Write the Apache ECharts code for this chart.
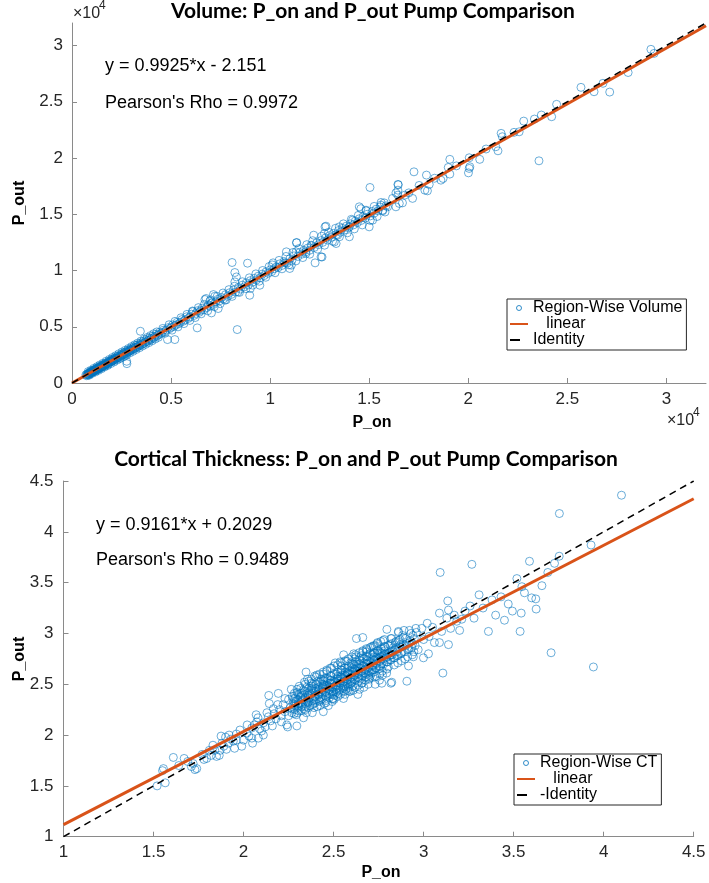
<!DOCTYPE html>
<html><head><meta charset="utf-8">
<script src="https://cdn.jsdelivr.net/npm/echarts@6/dist/echarts.min.js"></script>
<style>html,body{margin:0;padding:0;background:#fff}#c{width:709px;height:883px}</style>
</head><body><div id="c"></div>
<script>
// ---------- DATA ----------
const volumeTitle = 'Volume: P_on and P_out Pump Comparison';
const ctTitle = 'Cortical Thickness: P_on and P_out Pump Comparison';
const volumeFit = [0.9925, -2.151];
const ctFit = [0.9161, 0.2029];
const volumeTicks = [0, 5000, 10000, 15000, 20000, 25000, 30000];
const ctTicks = [1, 1.5, 2, 2.5, 3, 3.5, 4, 4.5];

const volumePoints = [
[700,720],[740,650],[760,790],[790,760],[810,700],[830,870],[850,820],[860,780],[880,920],[900,870],
[920,940],[940,850],[960,1000],[980,930],[1000,1050],[1010,960],[1030,1000],[1050,1110],[1070,1020],[1090,1080],
[1110,1170],[1130,1050],[1150,1120],[1170,1220],[1190,1100],[1210,1180],[1230,1290],[1250,1210],[1270,1160],[1290,1330],
[1310,1270],[1340,1400],[1360,1300],[1380,1350],[1400,1460],[1420,1330],[1440,1410],[1470,1520],[1490,1440],[1510,1390],
[1540,1590],[1560,1500],[1580,1560],[1610,1680],[1630,1570],[1650,1510],[1680,1720],[1700,1640],[1720,1690],[1750,1810],
[1770,1700],[1800,1760],[1820,1650],[1850,1900],[1870,1820],[1900,1860],[1920,1990],[1950,1880],[1980,1940],[2000,2080],
[2030,1960],[2060,2030],[2080,2150],[2110,2050],[2140,2000],[2160,2220],[2190,2140],[2220,2180],[2250,2330],[2270,2200],
[2300,2250],[2330,2410],[2360,2290],[2390,2350],[2420,2200],[2450,2500],[2480,2420],[2510,2470],[2540,2620],[2570,2500],
[2600,2560],[2630,2690],[2660,2590],[2690,2440],[2720,2780],[2750,2680],[2760,1930],[2770,1720],[2790,2760],[2820,2900],
[2850,2760],[2880,2830],[2910,2980],[2940,2870],[2970,2920],[3000,3090],[3040,2950],[3080,3040],[3110,3200],[3150,3060],
[3190,3130],[3230,3340],[3270,3180],[3310,3240],[3350,3420],[3390,3300],[3430,3370],[3450,4600],[3480,3560],[3520,3420],
[3560,3490],[3600,3700],[3650,3550],[3700,3640],[3750,3850],[3800,3690],[3850,3780],[3900,3990],[3950,3840],[4000,3930],
[4060,4150],[4120,4000],[4180,4110],[4240,4330],[4300,4200],[4360,4280],[4420,4510],[4480,4380],
[820,1010],[880,700],[950,1130],[1020,860],[1100,1300],[1180,980],[1260,1450],[1330,1120],[1400,1600],[1480,1260],
[1560,1750],[1640,1420],[1720,1930],[1800,1560],[1880,2090],[1960,1730],[2040,2260],[2120,1870],[2200,2420],[2280,2040],
[2360,2590],[2440,2190],[2520,2750],[2600,2350],[2680,2900],[2760,2500],[2840,3060],[2920,2680],[3000,3230],[3080,2820],
[3160,3390],[3240,2980],[3320,3550],[3400,3130],[3480,3720],[3560,3290],[3640,3890],[3720,3440],[3800,4050],[3880,3590],
[3960,4210],[4040,3750],[4120,4380],[4200,3910],[4280,4540],[4360,4060],
[4550,4480],[4600,4690],[4680,4560],[4760,4700],[4820,3860],[4850,4920],[4930,4830],[5010,4950],[5080,5170],[5150,5030],
[5190,3860],[5230,5150],[5310,5400],[5390,5260],[5470,5390],[5550,5640],[5630,5500],[5710,5620],[5790,5890],[5870,5740],
[5950,5880],[6030,6120],[6100,6350],[6180,6020],[6250,6180],[6320,4900],[6340,6430],[6420,6280],[6500,6450],[6570,6650],
[6650,6500],[6710,7420],[6770,7510],[6800,6700],[6880,6950],[6960,7300],[6960,6820],[7040,6230],[7040,7100],[7140,7860],
[7150,6990],[7210,7710],[7250,7200],[7380,6620],[7350,7430],[7450,7300],[7550,7600],[7650,7480],[7710,7360],[7750,7850],
[7850,7700],[7950,8020],[8050,7880],[8080,10710],[8150,8250],[8220,9820],[8220,8990],[8250,8080],[8300,9430],[8340,4750],
[8380,8100],[8400,8500],[8500,8350],[8600,8700],[8700,8550],[8800,8900],[8860,10650],[8900,8720],[8970,7800],[9000,8400],
[9000,9100],[9100,8950],[9200,9300],[9300,9150],[9400,9500],[9480,8690],[9500,9350],[9600,9680],[9700,9550],[9800,9880],
[9900,9750],[10000,10050],
[4580,4850],[4700,4420],[4900,5180],[5050,4700],[5200,5480],[5350,4990],[5500,5800],[5650,5280],[5800,6100],[5950,5560],
[6080,6400],[6220,5820],[6380,6700],[6520,6150],[6680,6990],[6850,6420],[7000,7380],[7180,6780],[7330,7700],[7480,7050],
[7620,8000],[7780,7390],[7920,8300],[8080,7700],[8200,8600],[8450,8050],[8600,9000],[8780,8380],[8950,9350],[9120,8700],
[9280,9700],[9450,9050],[9620,10000],[9780,9400],[9950,10350],
[10080,9900],[10150,10680],[10200,10150],[10320,10320],[10400,10250],[10500,10600],[10600,10450],[10700,10800],[10740,10680],[10820,11660],
[10850,10650],[10990,10180],[11000,11050],[11070,10470],[11100,10900],[11200,11300],[11310,11660],[11330,12460],[11340,12490],[11400,11250],
[11500,11600],[11600,11450],[11700,11800],[11810,11510],[11800,11650],[11900,12000],[12000,11800],[12070,12250],[12100,12200],[12200,13140],
[12230,12050],[12270,10680],[12350,12450],[12450,12300],[12570,11210],[12550,12650],[12620,11200],[12650,12500],[12740,13290],[12770,13880],
[12800,12900],[12820,13940],[12900,12700],[13000,13100],[13100,12950],[13200,13300],[13240,12540],[13330,12400],[13350,13200],[13410,13140],
[13450,13550],[13490,13880],[13550,13400],[13650,13750],[13750,13600],[13850,13950],[13950,13800],[14000,13880],[14000,13000],[14050,14150],
[14160,14470],[14200,14050],[14300,14400],[14400,14250],[14500,15660],[14500,14600],[14580,15500],[14600,14450],[14700,14800],[14800,14650],
[14840,15360],[14900,15000],[15000,13880],[15040,17380],[15050,14850],[15170,14470],[15150,15250],[15250,15100],[15350,15450],[15450,15300],
[15590,15810],[15680,15300],[15680,15360],[15760,16010],[15930,15660],[15550,15650],[15850,15750],
[10100,10500],[10250,9800],[10450,10900],[10600,10150],[10800,11250],[10950,10500],[11150,11600],[11300,10850],[11450,11950],[11650,11150],
[11850,12300],[12000,11450],[12150,12650],[12400,11900],[12600,13050],[12750,12250],[12950,13400],[13150,12600],[13300,13750],[13500,13000],
[13700,14150],[13900,13350],[14100,14550],[14250,13700],[14450,14900],[14650,14050],[14850,15300],[15050,14450],[15250,15700],[15400,14800],
[15600,16050],[15800,15200],
[16180,16410],[16350,16900],[16350,15660],[16450,17650],[16450,17140],[16450,16700],[16470,17620],[16520,15960],[16680,16010],[16800,16700],
[17000,16900],[17190,16410],[17260,18770],[17520,17560],[17810,17140],[17890,18480],[17940,17080],[18030,17650],[18300,18200],[18620,18030],
[18730,18180],[18990,19160],[19070,19880],[19070,18570],[19400,19300],[20010,18680],[20050,20020],[20080,19220],[20050,19070],[20580,19880],
[20900,20800],[21390,21000],[21500,20640],[21660,22190],[21720,21890],[22310,22280],[22570,22330],[22800,23280],[23340,23460],[23570,19750],
[23690,23820],[24210,23670],[24460,24770],[25690,26280],[26350,25890],[26800,26640],[27140,25860],[28070,27600],[29220,29660],[29380,29300]
];

const ctPoints = [
[1.52,1.50],[1.55,1.65],[1.555,1.67],[1.565,1.53],[1.61,1.78],[1.64,1.70],[1.67,1.77],[1.69,1.74],[1.71,1.69],[1.72,1.72],
[1.73,1.66],[1.74,1.67],[1.77,1.81],[1.795,1.77],[1.81,1.85],[1.82,1.80],[1.84,1.85],[1.85,1.79],[1.865,1.80],[1.875,1.99],
[1.88,1.92],[1.89,1.89],[1.90,1.98],[1.905,1.86],[1.916,1.92],[1.93,1.96],[1.943,1.94],[1.95,1.87],[1.96,2.01],[1.98,2.05],
[1.99,1.89],[2.00,1.95],[2.018,2.02],[2.03,1.99],[2.046,2.07],[2.046,1.97],[2.06,2.10],[2.07,2.20],[2.073,2.13],[2.082,1.97],
[2.09,2.06],[2.10,2.04],[2.11,2.12],[2.12,2.08],[2.138,2.18],[2.14,2.39],[2.143,2.31],[2.15,2.14],[2.166,2.26],[2.17,2.21],
[2.18,2.16],[2.193,2.41],[2.20,2.25],[2.21,2.19],[2.22,2.30],[2.23,2.23],[2.24,2.10],[2.245,2.08],[2.25,2.35],[2.26,2.27],
[2.02,2.10],[2.05,1.92],[2.08,2.17],[2.11,2.00],[2.13,2.22],[2.16,2.09],[2.19,2.30],[2.21,2.13],[2.23,2.36],[2.25,2.19],
[1.96,1.95],[1.92,2.00],[1.87,1.85],[1.83,1.90],[1.78,1.76],
[2.268,2.22],[2.274,2.31],[2.271,2.38],[2.279,2.26],[2.265,2.45],
[2.288,2.29],[2.293,2.20],[2.285,2.36],[2.297,2.42],[2.291,2.33],[2.296,2.09],
[2.306,2.28],[2.314,2.37],[2.309,2.48],[2.318,2.32],[2.303,2.24],[2.312,2.41],
[2.327,2.35],[2.336,2.26],[2.331,2.44],[2.324,2.30],[2.338,2.52],[2.329,2.39],[2.333,2.17],
[2.347,2.62],[2.352,2.33],[2.356,2.41],[2.344,2.28],[2.351,2.47],[2.358,2.37],[2.349,2.22],[2.355,2.55],
[2.366,2.36],[2.374,2.44],[2.369,2.29],[2.377,2.51],[2.372,2.40],[2.364,2.33],[2.378,2.46],
[2.388,2.34],[2.393,2.43],[2.386,2.50],[2.397,2.38],[2.391,2.27],[2.384,2.45],[2.395,2.58],[2.389,2.31],
[2.407,2.59],[2.413,2.40],[2.416,2.47],[2.404,2.35],[2.411,2.53],[2.418,2.44],[2.409,2.28],[2.415,2.39],
[2.426,2.42],[2.434,2.50],[2.429,2.37],[2.437,2.46],[2.443,2.23],[2.432,2.55],[2.424,2.33],[2.438,2.48],[2.431,2.35],
[2.448,2.45],[2.453,2.39],[2.446,2.53],[2.457,2.34],[2.451,2.49],[2.444,2.60],[2.455,2.42],[2.449,2.31],[2.453,2.56],
[2.466,2.48],[2.474,2.41],[2.469,2.55],[2.477,2.37],[2.472,2.44],[2.464,2.63],[2.478,2.51],[2.471,2.29],[2.468,2.46],
[2.488,2.50],[2.493,2.43],[2.486,2.58],[2.497,2.36],[2.491,2.47],[2.484,2.54],[2.495,2.40],[2.489,2.66],[2.492,2.33],
[2.507,2.52],[2.513,2.45],[2.516,2.60],[2.504,2.39],[2.511,2.49],[2.518,2.56],[2.509,2.71],[2.515,2.42],[2.503,2.35],[2.512,2.48],
[2.536,2.72],[2.526,2.47],[2.534,2.55],[2.529,2.41],[2.537,2.62],[2.532,2.51],[2.524,2.38],[2.538,2.58],[2.531,2.44],[2.527,2.53],
[2.548,2.56],[2.553,2.49],[2.546,2.64],[2.557,2.43],[2.551,2.52],[2.544,2.68],[2.555,2.36],[2.549,2.59],[2.553,2.46],[2.556,2.79],
[2.566,2.58],[2.574,2.51],[2.569,2.45],[2.577,2.66],[2.572,2.54],[2.564,2.40],[2.578,2.62],[2.571,2.73],[2.568,2.48],[2.575,2.60],
[2.588,2.60],[2.593,2.53],[2.586,2.43],[2.597,2.67],[2.591,2.56],[2.584,2.47],[2.595,2.71],[2.589,2.63],[2.592,2.50],[2.592,2.43],
[2.607,2.62],[2.613,2.55],[2.616,2.69],[2.604,2.48],[2.611,2.58],[2.618,2.75],[2.609,2.44],[2.615,2.65],[2.603,2.52],[2.612,2.80],
[2.626,2.63],[2.634,2.57],[2.629,2.70],[2.637,2.49],[2.627,2.95],[2.632,2.60],[2.624,2.77],[2.638,2.53],[2.631,2.66],[2.635,2.40],
[2.648,2.66],[2.653,2.59],[2.646,2.73],[2.657,2.51],[2.651,2.62],[2.662,2.96],[2.655,2.78],[2.649,2.55],[2.653,2.69],[2.644,2.45],
[2.666,2.68],[2.674,2.61],[2.669,2.75],[2.677,2.54],[2.672,2.64],[2.664,2.82],[2.678,2.57],[2.671,2.71],[2.668,2.47],[2.684,2.82],
[2.688,2.70],[2.693,2.63],[2.686,2.77],[2.697,2.56],[2.691,2.66],[2.684,2.84],[2.695,2.59],[2.689,2.73],[2.692,2.50],
[2.707,2.71],[2.713,2.64],[2.716,2.79],[2.704,2.58],[2.711,2.87],[2.718,2.68],[2.709,2.61],[2.715,2.75],[2.721,2.87],
[2.726,2.74],[2.734,2.66],[2.729,2.81],[2.731,2.50],[2.737,2.70],[2.732,2.88],[2.724,2.62],[2.738,2.77],[2.728,2.57],
[2.748,2.76],[2.753,2.68],[2.746,2.83],[2.757,2.60],[2.758,2.81],[2.744,2.91],[2.755,2.54],[2.749,2.80],[2.752,2.65],
[2.768,2.51],[2.774,2.78],[2.766,2.70],[2.777,2.85],[2.771,2.63],[2.764,2.74],[2.775,2.93],[2.769,2.81],[2.772,2.59],
[2.788,2.80],[2.793,2.72],[2.786,2.87],[2.797,2.65],[2.796,3.04],[2.791,2.76],[2.784,2.83],[2.795,2.61],
[2.807,2.81],[2.813,2.74],[2.816,2.89],[2.804,2.67],[2.811,2.78],[2.818,2.95],[2.818,2.51],
[2.826,2.83],[2.834,2.76],[2.823,2.90],[2.823,2.52],[2.837,2.69],[2.832,2.86],[2.824,2.79],[2.86,3.01],
[2.848,2.86],[2.853,2.78],[2.846,2.92],[2.857,2.71],[2.86,3.02],[2.851,2.82],
[2.866,2.87],[2.874,2.80],[2.869,2.94],[2.877,2.73],[2.872,2.89],
[2.888,2.89],[2.893,2.82],[2.886,2.96],[2.897,2.75],[2.891,3.03],
[2.907,2.90],[2.913,2.84],[2.907,2.53],[2.916,2.68],[2.921,3.03],[2.911,2.77],
[2.926,2.93],[2.934,2.86],[2.929,3.00],[2.937,2.79],[2.943,2.77],
[2.948,2.95],[2.953,2.88],[2.946,2.82],[2.957,3.05],
[2.281,2.21],[2.284,2.30],[2.277,2.36],[2.286,2.25],[2.282,2.41],[2.279,2.33],
[2.301,2.35],[2.298,2.22],[2.305,2.40],[2.302,2.29],[2.297,2.45],[2.304,2.31],
[2.321,2.24],[2.319,2.38],[2.325,2.33],[2.317,2.46],[2.323,2.28],[2.322,2.41],
[2.341,2.37],[2.343,2.25],[2.339,2.43],[2.345,2.31],[2.342,2.50],[2.337,2.35],
[2.361,2.27],[2.359,2.39],[2.363,2.46],[2.357,2.32],[2.362,2.53],[2.365,2.42],
[2.381,2.41],[2.383,2.30],[2.379,2.48],[2.385,2.36],[2.377,2.55],[2.382,2.22],
[2.401,2.43],[2.398,2.32],[2.403,2.50],[2.396,2.38],[2.402,2.57],[2.399,2.46],
[2.421,2.45],[2.419,2.34],[2.423,2.52],[2.417,2.40],[2.422,2.60],[2.425,2.29],
[2.441,2.47],[2.439,2.36],[2.443,2.54],[2.437,2.42],[2.442,2.62],[2.445,2.50],
[2.461,2.49],[2.459,2.38],[2.463,2.56],[2.457,2.43],[2.462,2.64],[2.458,2.32],
[2.481,2.51],[2.479,2.40],[2.483,2.58],[2.477,2.45],[2.482,2.66],[2.485,2.54],
[2.501,2.53],[2.499,2.42],[2.503,2.60],[2.497,2.47],[2.502,2.68],[2.498,2.36],
[2.521,2.55],[2.519,2.44],[2.523,2.62],[2.517,2.49],[2.522,2.69],[2.525,2.58],
[2.541,2.57],[2.539,2.46],[2.543,2.64],[2.537,2.51],[2.542,2.71],[2.538,2.40],
[2.561,2.59],[2.559,2.48],[2.563,2.66],[2.557,2.53],[2.562,2.73],[2.565,2.62],
[2.581,2.61],[2.579,2.50],[2.583,2.68],[2.577,2.55],[2.582,2.75],[2.578,2.44],
[2.601,2.63],[2.599,2.52],[2.603,2.70],[2.597,2.57],[2.602,2.77],[2.605,2.66],
[2.621,2.64],[2.619,2.54],[2.623,2.72],[2.617,2.59],[2.622,2.79],[2.618,2.47],
[2.641,2.66],[2.639,2.56],[2.643,2.74],[2.637,2.61],[2.642,2.81],[2.645,2.70],
[2.661,2.68],[2.659,2.58],[2.663,2.76],[2.657,2.63],[2.662,2.83],[2.658,2.51],
[2.681,2.70],[2.679,2.60],[2.683,2.78],[2.677,2.65],[2.682,2.85],[2.685,2.74],
[2.701,2.72],[2.699,2.62],[2.703,2.80],[2.697,2.67],[2.702,2.86],[2.698,2.55],
[2.721,2.73],[2.719,2.64],[2.723,2.81],[2.717,2.69],[2.722,2.88],[2.725,2.77],
[2.741,2.75],[2.739,2.66],[2.743,2.83],[2.737,2.71],[2.742,2.90],[2.738,2.58],
[2.761,2.77],[2.759,2.68],[2.763,2.85],[2.757,2.73],[2.762,2.92],
[2.781,2.79],[2.779,2.70],[2.783,2.87],[2.777,2.75],[2.782,2.94],
[2.801,2.80],[2.799,2.72],[2.803,2.88],[2.797,2.77],
[2.821,2.82],[2.819,2.74],[2.823,2.95],[2.817,2.79],
[2.841,2.84],[2.839,2.76],[2.843,2.91],
[2.861,2.85],[2.859,2.79],[2.863,2.93],
[2.881,2.87],[2.879,2.81],[2.883,2.98],
[2.901,2.88],[2.899,2.95],[2.921,2.91],[2.919,2.85],[2.941,2.98],[2.939,2.90],
[2.96,3.01],[2.97,2.84],[2.99,3.05],[2.999,2.76],[3.00,2.94],[3.02,3.10],[3.027,2.80],[3.03,2.97],[3.05,3.06],[3.06,2.91],
[3.088,3.20],[3.088,2.91],[3.092,3.60],[3.10,3.02],[3.107,2.61],[3.129,3.15],[3.134,3.32],[3.138,3.23],[3.138,2.89],[3.15,3.05],
[3.17,3.18],[3.184,3.12],[3.20,3.03],[3.212,3.14],[3.23,3.22],[3.258,3.27],[3.268,3.68],[3.28,3.15],[3.308,3.38],[3.33,3.25],
[3.36,3.02],[3.38,3.33],[3.40,3.18],[3.43,3.36],[3.449,3.13],[3.47,3.29],[3.493,3.22],[3.518,3.54],[3.536,3.02],[3.542,3.20],
[3.546,3.46],[3.56,3.40],[3.588,3.71],[3.60,3.35],[3.623,3.34],[3.625,3.24],[3.657,3.47],[3.69,3.60],[3.708,2.81],[3.727,3.69],
[3.753,3.76],[3.754,4.18],[3.93,3.87],[3.943,2.67],[4.099,4.36]
];

// ---------- CHART ----------
const chart = echarts.init(document.getElementById('c'), null, {renderer: 'canvas'});
const FONT = 'Liberation Sans';
const AXC = '#8a8a8a';

function valAxis(gridIndex, min, max, interval, ticks, fmt, margin) {
  return {
    type: 'value', gridIndex, min, max, interval,
    axisLine: {show: true, onZero: false, lineStyle: {color: AXC, width: 1}},
    axisTick: {show: true, inside: true, length: 5, lineStyle: {color: AXC}, customValues: ticks},
    axisLabel: {show: true, color: '#262626', fontSize: 17, fontFamily: FONT, margin, customValues: ticks, formatter: fmt},
    splitLine: {show: false}
  };
}
const volFmt = v => String(v / 10000);
const ctFmt = v => String(v);
const line = (fit, x) => [x, fit[0] * x + fit[1]];

const scatterStyle = {color: 'rgba(0,0,0,0)', borderColor: 'rgba(0,114,189,0.72)', borderWidth: 1};
const circleLegendStyle = {color: 'rgba(0,0,0,0)', borderColor: '#0072BD', borderWidth: 1};
const hiddenSymbol = {color: 'rgba(0,0,0,0)', borderColor: 'rgba(0,0,0,0)', borderWidth: 0, opacity: 0};

function legendBox(left, top, names) {
  return {
    orient: 'vertical', left, top, padding: [1, 4, 2, 2], itemGap: 0, itemWidth: 18, itemHeight: 5,
    borderColor: '#262626', borderWidth: 1, backgroundColor: '#fff', selectedMode: false,
    textStyle: {fontSize: 16, fontFamily: FONT, color: '#000', lineHeight: 16},
    formatter: n => n === 'linear' ? '   linear' : n,
    data: [
      {name: names[0], icon: 'circle', itemStyle: circleLegendStyle},
      {name: names[1], itemStyle: hiddenSymbol},
      {name: names[2], itemStyle: hiddenSymbol, lineStyle: {type: [10, 20]}}
    ]
  };
}

function txt(text, x, y, size, extra) {
  return {type: 'text', x, y, style: Object.assign({text, fontSize: size, fontFamily: FONT, fill: '#000', verticalAlign: 'middle'}, extra || {})};
}

const option = {
  animation: false,
  backgroundColor: '#fff',
  title: [
    {text: volumeTitle, left: 373, top: 1, padding: 0, textAlign: 'center',
     textStyle: {fontFamily: 'Lato', fontWeight: 'bold', fontSize: 21, color: '#000'}},
    {text: ctTitle, left: 366, top: 449, padding: 0, textAlign: 'center',
     textStyle: {fontFamily: 'Lato', fontWeight: 'bold', fontSize: 21, color: '#000'}}
  ],
  grid: [
    {left: 72, top: 23, width: 634, height: 360, containLabel: false, outerBoundsMode: 'none'},
    {left: 63.5, top: 481, width: 630.2, height: 355.7, containLabel: false, outerBoundsMode: 'none'}
  ],
  xAxis: [
    valAxis(0, 0, 32000, 5000, volumeTicks, volFmt, 8),
    valAxis(1, 1, 4.5, 0.5, ctTicks, ctFmt, 7)
  ],
  yAxis: [
    valAxis(0, 0, 32000, 5000, volumeTicks, volFmt, 9),
    valAxis(1, 1, 4.5, 0.5, ctTicks, ctFmt, 10)
  ],
  legend: [
    legendBox(507, 299, ['Region-Wise Volume', 'linear', 'Identity']),
    legendBox(514, 754, ['Region-Wise CT', 'linear', '-Identity'])
  ],
  series: [
    {type: 'scatter', name: 'Region-Wise Volume', xAxisIndex: 0, yAxisIndex: 0, data: volumePoints,
     symbol: 'circle', symbolSize: 8, itemStyle: scatterStyle, emphasis: {disabled: true}, z: 2},
    {type: 'line', name: 'linear', xAxisIndex: 0, yAxisIndex: 0, symbol: 'none', showSymbol: false, silent: true,
     data: [line(volumeFit, 0), line(volumeFit, 32000)], lineStyle: {color: '#D95319', width: 3}, z: 3},
    {type: 'line', name: 'Identity', xAxisIndex: 0, yAxisIndex: 0, symbol: 'none', showSymbol: false, silent: true,
     data: [[0, 0], [32000, 32000]], lineStyle: {color: '#000', width: 1.5, type: [7, 5]}, z: 4},
    {type: 'scatter', name: 'Region-Wise CT', xAxisIndex: 1, yAxisIndex: 1, data: ctPoints,
     symbol: 'circle', symbolSize: 8, itemStyle: scatterStyle, emphasis: {disabled: true}, z: 2},
    {type: 'line', name: 'linear', xAxisIndex: 1, yAxisIndex: 1, symbol: 'none', showSymbol: false, silent: true,
     data: [line(ctFit, 1), line(ctFit, 4.5)], lineStyle: {color: '#D95319', width: 3}, z: 3},
    {type: 'line', name: '-Identity', xAxisIndex: 1, yAxisIndex: 1, symbol: 'none', showSymbol: false, silent: true,
     data: [[1, 1], [4.5, 4.5]], lineStyle: {color: '#000', width: 1.5, type: [7, 5]}, z: 4}
  ],
  graphic: [
    txt('y = 0.9925*x - 2.151', 105, 66.5, 18),
    txt("Pearson's Rho = 0.9972", 105, 103, 18),
    txt('y = 0.9161*x + 0.2029', 96, 525, 18),
    txt("Pearson's Rho = 0.9489", 96, 560.5, 18),
    txt('\u00d710', 73, 14, 16, {fill: '#262626'}),
    txt('4', 99, 6, 12, {fill: '#262626'}),
    txt('\u00d710', 667, 421, 16, {fill: '#262626'}),
    txt('4', 693, 413, 12, {fill: '#262626'}),
    txt('P_on', 372, 423, 16, {fontWeight: 'bold', align: 'center'}),
    txt('P_on', 381, 873, 16, {fontWeight: 'bold', align: 'center'}),
    {type: 'text', x: 20, y: 203, rotation: Math.PI / 2,
     style: {text: 'P_out', fontSize: 16, fontFamily: FONT, fontWeight: 'bold', fill: '#000', align: 'center', verticalAlign: 'middle'}},
    {type: 'text', x: 20, y: 659, rotation: Math.PI / 2,
     style: {text: 'P_out', fontSize: 16, fontFamily: FONT, fontWeight: 'bold', fill: '#000', align: 'center', verticalAlign: 'middle'}}
  ]
};
chart.setOption(option);
</script>
</body></html>
